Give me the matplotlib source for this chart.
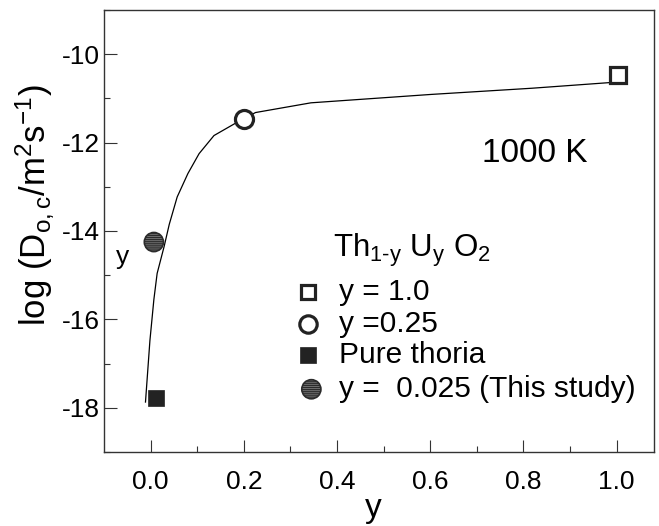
import matplotlib
matplotlib.use("Agg")
import matplotlib.pyplot as plt

plt.rcParams['font.family'] = ['Liberation Sans', 'DejaVu Sans']
plt.rcParams['mathtext.fontset'] = 'custom'
plt.rcParams['mathtext.rm'] = 'Liberation Sans'
plt.rcParams['mathtext.it'] = 'Liberation Sans'
plt.rcParams['mathtext.default'] = 'regular'
plt.rcParams['hatch.linewidth'] = 0.7

# Data
curve_x = [-0.011, -0.0015, 0.007, 0.014, 0.029, 0.040, 0.057, 0.080, 0.104, 0.136, 0.179, 0.2, 0.225, 0.344, 0.602, 0.818, 0.988]
curve_y = [-17.87, -16.48, -15.55, -14.96, -14.35, -13.85, -13.23, -12.70, -12.25, -11.84, -11.58, -11.46, -11.32, -11.10, -10.91, -10.77, -10.64]

y10_x, y10_y = [1.003], [-10.46]        # y = 1.0
y025_x, y025_y = [0.20], [-11.46]       # y = 0.25
thoria_x, thoria_y = [0.012], [-17.78]  # pure thoria
study_x, study_y = [0.007], [-14.25]    # y = 0.025 (this study)

legend_labels = ["y = 1.0", "y =0.25", "Pure thoria", "y =  0.025 (This study)"]
x_ticks = [0.0, 0.2, 0.4, 0.6, 0.8, 1.0]
y_ticks = [-18, -16, -14, -12, -10]

W, H = 659, 526
fig = plt.figure(figsize=(W/100, H/100), dpi=100)
ax = fig.add_axes([104/W, 74/H, 550/W, 442/H])

dark = '#222222'
ax.plot(curve_x, curve_y, color='black', lw=0.9, zorder=2)
ax.plot(y10_x, y10_y, 's', ms=11, mfc='white', mec=dark, mew=2.3, zorder=3)
ax.plot(y025_x, y025_y, 'o', ms=13, mfc='white', mec=dark, mew=2.3, zorder=3)
ax.plot(thoria_x, thoria_y, 's', ms=11.5, mfc=dark, mec=dark, mew=0.5, zorder=3)
ax.scatter(study_x, study_y, s=190, facecolor='#2b2b2b', edgecolor='#707070', hatch='--------', lw=0, zorder=3)
ax.scatter(study_x, study_y, s=190, facecolor='none', edgecolor='#2b2b2b', lw=1.2, zorder=4)

ax.set_xlim(-0.1, 1.08)
ax.set_ylim(-19, -9)
ax.set_xticks(x_ticks)
ax.set_xticklabels([f"{v:.1f}" for v in x_ticks])
ax.set_yticks(y_ticks)
ax.set_yticklabels([f"{v}" for v in y_ticks])
ax.set_xticks([0.1, 0.3, 0.5, 0.7, 0.9], minor=True)
ax.set_yticks([-19, -17, -15, -13, -11, -9], minor=True)
ax.tick_params(which='major', direction='in', length=9, width=0.8, labelsize=19, color='#333333')
ax.tick_params(axis='x', which='major', pad=13)
ax.tick_params(axis='y', which='major', pad=3)
ax.tick_params(which='minor', direction='in', length=4.5, width=0.8, color='#333333')
for s in ax.spines.values():
    s.set_linewidth(1.0)
    s.set_color('#333333')

# axis labels placed in figure pixels
fig.text(373/W, 1 - 509/H, 'y', fontsize=24, ha='center', va='center')
fig.text(35/W, 1 - 205/H, 'log (D$_{o,c}$/m$^2$s$^{-1}$)', fontsize=25,
         rotation=90, ha='center', va='center')

ax.text(0.784, 0.675, '1000 K', transform=ax.transAxes, fontsize=24, ha='center', va='center')
ax.text(0.0345, 0.441, 'y', transform=ax.transAxes, fontsize=19, ha='center', va='center')

# Legend (manual)
ax.text(0.416, 0.455, 'Th$_{\\text{1-y}}$ U$_y$ O$_2$', transform=ax.transAxes, fontsize=22.5, ha='left', va='center')
mx = 0.371
tx = 0.428
rows = [0.362, 0.290, 0.219, 0.142]
ax.plot([mx], [rows[0]], 's', ms=9.5, mfc='white', mec=dark, mew=2.3, transform=ax.transAxes, clip_on=False)
ax.plot([mx], [rows[1]], 'o', ms=12.5, mfc='white', mec=dark, mew=2.3, transform=ax.transAxes, clip_on=False)
ax.plot([mx], [rows[2]], 's', ms=11, mfc=dark, mec=dark, mew=0.5, transform=ax.transAxes, clip_on=False)
ax.scatter([mx + 0.006], [rows[3]], s=190, facecolor='#2b2b2b', edgecolor='#707070', hatch='--------', lw=0, transform=ax.transAxes, clip_on=False)
ax.scatter([mx + 0.006], [rows[3]], s=190, facecolor='none', edgecolor='#2b2b2b', lw=1.2, transform=ax.transAxes, clip_on=False)
for r, lab in zip(rows, legend_labels):
    ax.text(tx, r, lab, transform=ax.transAxes, fontsize=21.5, ha='left', va='center')

fig.savefig('out.png', dpi=100)
